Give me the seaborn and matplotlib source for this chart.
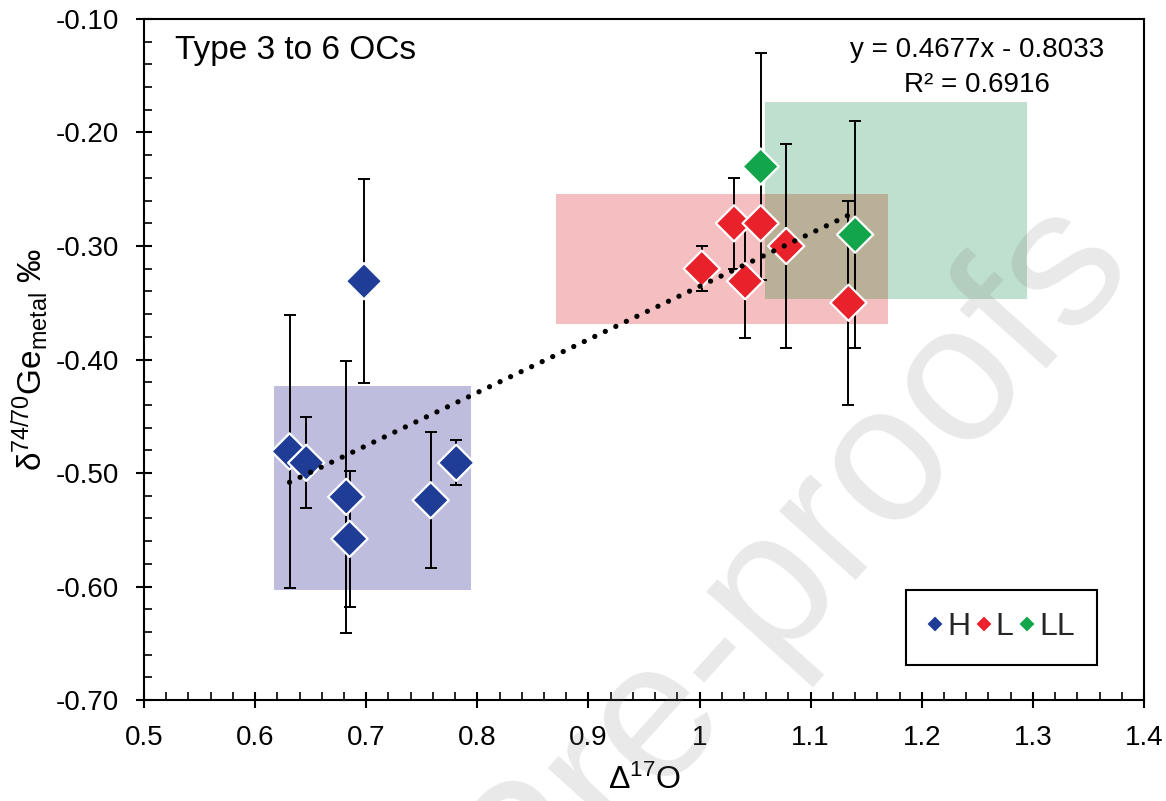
import numpy as np
import pandas as pd
import matplotlib
matplotlib.use("Agg")
import matplotlib.pyplot as plt
from matplotlib.patches import Rectangle
from matplotlib.ticker import MultipleLocator, FuncFormatter
import seaborn as sns

# chondrite groups and colours
groups = ["H", "L", "LL"]
group_colors = {"H": "#1f3d96", "L": "#e8212b", "LL": "#13a54b"}

# D17O (x), d74/70Ge metal (y) and 2sd error
h_x = [0.631, 0.646, 0.682, 0.685, 0.698, 0.758, 0.781]
h_y = [-0.481, -0.491, -0.521, -0.558, -0.331, -0.524, -0.491]
h_err = [0.12, 0.04, 0.12, 0.06, 0.09, 0.06, 0.02]

l_x = [1.002, 1.031, 1.041, 1.055, 1.078, 1.134]
l_y = [-0.320, -0.280, -0.331, -0.280, -0.300, -0.350]
l_err = [0.02, 0.04, 0.05, 0.0, 0.09, 0.09]

ll_x = [1.055, 1.140]
ll_y = [-0.230, -0.290]
ll_err = [0.10, 0.10]

# literature ranges for each group (x range, y range)
range_x = {"H": (0.617, 0.794), "L": (0.871, 1.170), "LL": (1.059, 1.295)}
range_y = {"H": (-0.603, -0.423), "L": (-0.369, -0.254), "LL": (-0.347, -0.173)}
range_colors = {"H": "#bfbddd", "L": "#f5bec0", "LL": "#bfe0ce"}
overlap_color = "#bab097"

# Excel trendline
slope, intercept, r2 = 0.4677, -0.8033, 0.6916

df = pd.DataFrame({
    "d17O": h_x + l_x + ll_x,
    "ge": h_y + l_y + ll_y,
    "err": h_err + l_err + ll_err,
    "group": ["H"] * len(h_x) + ["L"] * len(l_x) + ["LL"] * len(ll_x),
})

sns.set_theme(style="white")
plt.rcParams["font.family"] = ["Liberation Sans", "DejaVu Sans"]
plt.rcParams["mathtext.default"] = "regular"

fig = plt.figure(figsize=(11.66, 8.01), dpi=100)
ax = fig.add_axes([144 / 1166, 101 / 801, 1000 / 1166, 681 / 801])

# shaded ranges
for g in groups:
    x0, x1 = range_x[g]
    y0, y1 = range_y[g]
    ax.add_patch(Rectangle((x0, y0), x1 - x0, y1 - y0, facecolor=range_colors[g],
                           edgecolor="none", zorder=1))

# where the L and LL ranges overlap
ox0, ox1 = max(range_x["L"][0], range_x["LL"][0]), min(range_x["L"][1], range_x["LL"][1])
oy0, oy1 = max(range_y["L"][0], range_y["LL"][0]), min(range_y["L"][1], range_y["LL"][1])
ax.add_patch(Rectangle((ox0, oy0), ox1 - ox0, oy1 - oy0, facecolor=overlap_color,
                       edgecolor="none", zorder=1.1))

# error bars
for g in groups:
    sub = df[df["group"] == g]
    ax.errorbar(sub["d17O"], sub["ge"], yerr=sub["err"], fmt="none", ecolor="black",
                elinewidth=1.4, capsize=4.5, capthick=1.4, zorder=2)

sns.scatterplot(data=df, x="d17O", y="ge", hue="group", hue_order=groups,
                palette=group_colors, marker="D", s=340, edgecolor="white",
                linewidth=1.6, zorder=3, ax=ax)

# trendline
xs = np.array([df["d17O"].min(), df["d17O"].max()])
ax.plot(xs, slope * xs + intercept, color="black", lw=3.8,
        linestyle=(0, (0.01, 2.2)), dash_capstyle="round", zorder=4)

ax.set_xlim(0.5, 1.4)
ax.set_ylim(-0.70, -0.10)
ax.xaxis.set_major_locator(MultipleLocator(0.1))
ax.xaxis.set_minor_locator(MultipleLocator(0.02))
ax.yaxis.set_major_locator(MultipleLocator(0.1))
ax.yaxis.set_minor_locator(MultipleLocator(0.02))
ax.xaxis.set_major_formatter(FuncFormatter(lambda v, p: f"{round(v, 2):g}"))
ax.yaxis.set_major_formatter(FuncFormatter(lambda v, p: f"{v:.2f}"))

ax.tick_params(which="both", bottom=True, left=True, top=False, right=False, colors="black")
ax.tick_params(which="major", direction="inout", length=12, width=1.5, labelsize=20, pad=12)
ax.tick_params(which="minor", direction="in", length=5.5, width=1.2)
for sp in ax.spines.values():
    sp.set_color("black")
    sp.set_linewidth(1.5)

ax.set_xlabel(r"$\Delta^{17}$O", fontsize=23, labelpad=10, color="black")
ax.set_ylabel(r"$\delta^{74/70}$Ge$_{metal}$ ‰", fontsize=24, labelpad=3, color="black")

ax.text(0.031, 0.941, "Type 3 to 6 OCs", transform=ax.transAxes, fontsize=24,
        va="baseline", ha="left", color="black")
ax.text(0.833, 0.944, f"y = {slope}x - {abs(intercept)}", transform=ax.transAxes,
        fontsize=20, va="baseline", ha="center", color="black")
ax.text(0.833, 0.893, f"R² = {r2}", transform=ax.transAxes,
        fontsize=20, va="baseline", ha="center", color="black")

sns.move_legend(ax, "center", bbox_to_anchor=(0.8575, 0.1065), ncol=3, title=None,
                frameon=True, fancybox=False, framealpha=1, edgecolor="black",
                fontsize=23, markerscale=0.5, handlelength=0.45, handletextpad=0.15,
                columnspacing=0.2, borderpad=0.7)
ax.get_legend().get_frame().set_linewidth(1.5)

# journal watermark
fig.text(0.975, 0.665, "Journal Pre-proofs", rotation=48, rotation_mode="anchor",
         ha="right", va="baseline", fontsize=140, color="0.45", alpha=0.16, zorder=10)

fig.savefig("out.png", dpi=100)
